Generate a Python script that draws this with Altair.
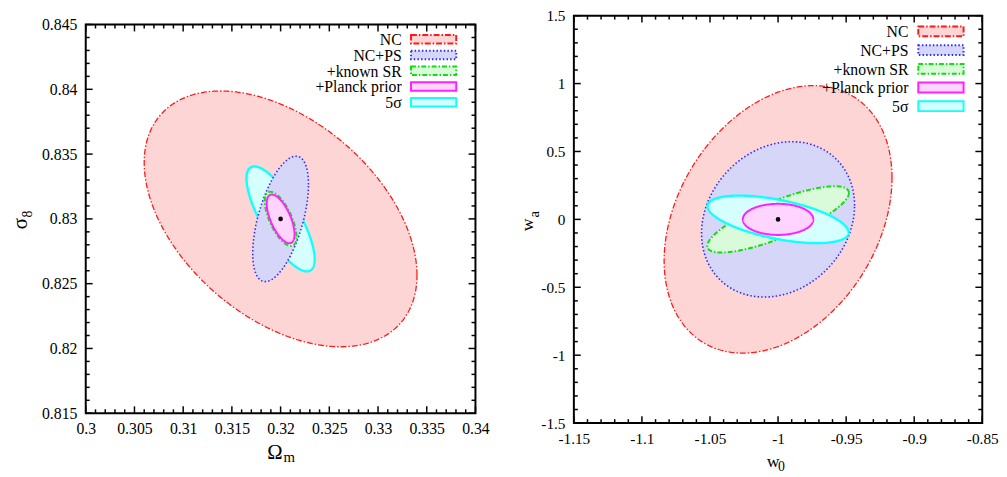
import altair as alt
import numpy as np
import pandas as pd

# ---------------- data ----------------
names = ["NC", "NC+PS", "+known SR", "+Planck prior", "5σ"]
line_colors = ["#ff1a1a", "#2a2aff", "#11dd11", "#ff22ff", "#11ffff"]
fill_colors = ["#fdd5d5", "#d6d6f9", "#d9fbd9", "#ffd5ff", "#d6ffff"]

# left panel: Omega_m vs sigma_8 (centre, sigma_x, sigma_y, correlation)
om_center = 0.32
s8_center = 0.83
om_sigma = [0.0140, 0.00286, 0.00162, 0.00143, 0.00350]
s8_sigma = [0.00987, 0.00484, 0.00209, 0.00188, 0.00405]
left_rho = [-0.44, 0.55, -0.65, -0.63, -0.77]

# right panel: w0 vs wa
w0_center = -1.0
wa_center = 0.0
w0_sigma = [0.0837, 0.0562, 0.0520, 0.0259, 0.0518]
wa_sigma = [0.985, 0.572, 0.244, 0.1145, 0.175]
right_rho = [0.31, 0.18, 0.80, 0.0, -0.55]

left_xticks = [0.3, 0.305, 0.31, 0.315, 0.32, 0.325, 0.33, 0.335, 0.34]
left_yticks = [0.815, 0.82, 0.825, 0.83, 0.835, 0.84, 0.845]
right_xticks = [-1.15, -1.1, -1.05, -1.0, -0.95, -0.9, -0.85]
right_yticks = [-1.5, -1.0, -0.5, 0.0, 0.5, 1.0, 1.5]

# ---------------- styles ----------------
FONT = "Liberation Serif"
dashes = [[6, 2, 1.5, 2], [1.5, 2.2], [5, 2, 1.5, 2], None, None]
widths = [1.3, 1.6, 2.0, 2.0, 2.4]
ORIGIN = 13  # absolute y of chart origin


def ellipse(cx, cy, sx, sy, rho, n=361):
    t = np.linspace(0, 2 * np.pi, n)
    x = cx + sx * np.cos(t)
    y = cy + sy * (rho * np.cos(t) + np.sqrt(1 - rho ** 2) * np.sin(t))
    return pd.DataFrame({"x": x, "y": y, "i": np.arange(n)})


def minor(major, nsub):
    out = []
    for a, b in zip(major[:-1], major[1:]):
        step = (b - a) / nsub
        for k in range(1, nsub):
            out.append(round(a + k * step, 6))
    return out


def panel(cfg):
    W, H, FT = cfg["W"], cfg["H"], cfg["FT"]
    xdom, ydom = cfg["xdom"], cfg["ydom"]
    fh = H - FT
    ytop = ydom[0] + (ydom[1] - ydom[0]) * H / fh
    xs = alt.Scale(domain=xdom, nice=False, zero=False)
    ys = alt.Scale(domain=[ydom[0], ytop], nice=False, zero=False)
    fs = cfg["tickfont"]
    xaxis = alt.Axis(values=cfg["xticks"], labelExpr="'' + datum.value", ticks=False,
                     domain=False, grid=False, labelFont=FONT, labelFontSize=fs,
                     labelColor="black", labelPadding=cfg["xpad"], labelFlush=False,
                     labelOverlap=False, labelBound=False, title=None)
    yaxis = alt.Axis(values=cfg["yticks"], labelExpr="'' + datum.value", ticks=False,
                     domain=False, grid=False, labelFont=FONT, labelFontSize=fs,
                     labelColor="black", labelPadding=cfg["ypad"], labelFlush=False,
                     labelOverlap=False, labelBound=False, title=None)
    X = lambda f: alt.X(f, type="quantitative", scale=xs, axis=xaxis)
    Y = lambda f: alt.Y(f, type="quantitative", scale=ys, axis=yaxis)

    layers = []
    for k in cfg["order"]:
        df = ellipse(cfg["cx"], cfg["cy"], cfg["sx"][k], cfg["sy"][k], cfg["rho"][k])
        props = dict(stroke=line_colors[k], fill=fill_colors[k], strokeWidth=widths[k])
        if dashes[k]:
            props["strokeDash"] = dashes[k]
        layers.append(alt.Chart(df).mark_line(**props).encode(
            x=X("x"), y=Y("y"), order=alt.Order("i:Q")))
    layers.append(alt.Chart(pd.DataFrame({"x": [cfg["cx"]], "y": [cfg["cy"]]}))
                  .mark_circle(size=22, color="black", opacity=1).encode(x=X("x"), y=Y("y")))

    # frame
    fr = pd.DataFrame({"x": [xdom[0]], "x2": [xdom[1]], "y": [ydom[0]], "y2": [ydom[1]]})
    layers.append(alt.Chart(fr).mark_rect(fill=None, stroke="black", strokeWidth=2)
                  .encode(x=X("x"), x2="x2", y=Y("y"), y2="y2"))

    # inward ticks on all four sides
    for vals, ln in ((cfg["xticks"], 7), (minor(cfg["xticks"], cfg["nsub"]), 4)):
        d = pd.DataFrame({"v": vals})
        layers.append(alt.Chart(d).mark_rule(color="black", strokeWidth=1.5).encode(
            x=X("v"), y=alt.value(H), y2=alt.value(H - ln)))
        layers.append(alt.Chart(d).mark_rule(color="black", strokeWidth=1.5).encode(
            x=X("v"), y=alt.value(FT), y2=alt.value(FT + ln)))
    for vals, ln in ((cfg["yticks"], 7), (minor(cfg["yticks"], cfg["nsub"]), 4)):
        d = pd.DataFrame({"v": vals})
        layers.append(alt.Chart(d).mark_rule(color="black", strokeWidth=1.5).encode(
            y=Y("v"), x=alt.value(0), x2=alt.value(ln)))
        layers.append(alt.Chart(d).mark_rule(color="black", strokeWidth=1.5).encode(
            y=Y("v"), x=alt.value(W), x2=alt.value(W - ln)))

    # legend
    one = pd.DataFrame({"a": [0]})
    for k in range(5):
        yc = cfg["leg_y0"] + k * cfg["leg_dy"]
        layers.append(alt.Chart(one).mark_text(
            text=names[k], font=FONT, fontSize=16, align="right", baseline="middle",
            color="black").encode(x=alt.value(cfg["leg_tx"]), y=alt.value(yc + 1)))
        props = dict(fill=fill_colors[k], stroke=line_colors[k], strokeWidth=2)
        if dashes[k]:
            props["strokeDash"] = dashes[k]
        bh = cfg["leg_bh"]
        layers.append(alt.Chart(one).mark_rect(**props).encode(
            x=alt.value(cfg["leg_bx"][0]), x2=alt.value(cfg["leg_bx"][1]),
            y=alt.value(yc - bh / 2), y2=alt.value(yc + bh / 2)))

    # axis titles with subscripts
    for t in cfg["titles"]:
        txt, x, y, size, angle = t
        kw = dict(text=txt, font=FONT, fontSize=size, align="left", baseline="alphabetic",
                  color="black")
        if angle:
            kw["angle"] = angle
        layers.append(alt.Chart(one).mark_text(**kw).encode(x=alt.value(x), y=alt.value(y)))

    return alt.layer(*layers).properties(width=W, height=H)


HL = 417 - ORIGIN
left_cfg = dict(
    W=396, H=HL, FT=22 - ORIGIN, xdom=[0.3, 0.34], ydom=[0.815, 0.845],
    xticks=left_xticks, yticks=left_yticks, nsub=5, tickfont=16, xpad=8, ypad=9,
    cx=om_center, cy=s8_center, sx=om_sigma, sy=s8_sigma, rho=left_rho,
    order=[0, 4, 1, 2, 3],
    leg_y0=37 - ORIGIN, leg_dy=16.0, leg_tx=321, leg_bx=[330.5, 376.5], leg_bh=8.5,
    titles=[("Ω", 184.5, HL + 46, 21, 0), ("m", 201, HL + 50, 15, 0),
            ("σ", -60, 230 - ORIGIN, 21, 270), ("8", -55, 218 - ORIGIN, 14, 270)],
)
HR = 427 - ORIGIN
right_cfg = dict(
    W=415, H=HR, FT=0, xdom=[-1.15, -0.85], ydom=[-1.5, 1.5],
    xticks=right_xticks, yticks=right_yticks, nsub=5, tickfont=15.5, xpad=9, ypad=9,
    cx=w0_center, cy=wa_center, sx=w0_sigma, sy=wa_sigma, rho=right_rho,
    order=[0, 1, 2, 4, 3],
    leg_y0=29 - ORIGIN, leg_dy=19.0, leg_tx=340, leg_bx=[350, 396], leg_bh=10,
    titles=[("w", 196, HR + 45, 18, 0), ("0", 207.5, HR + 49, 14, 0),
            ("w", -42, 232 - ORIGIN, 18, 270),
            ("a", -35.5, 218 - ORIGIN, 15, 270)],
)

chart = alt.hconcat(panel(left_cfg), panel(right_cfg), spacing=30).configure_view(
    stroke=None).properties(padding={"left": 2, "top": -3, "right": 0, "bottom": 0},
                            background="white")

chart.save("out.html", embed_options={"renderer": "svg", "actions": False})
